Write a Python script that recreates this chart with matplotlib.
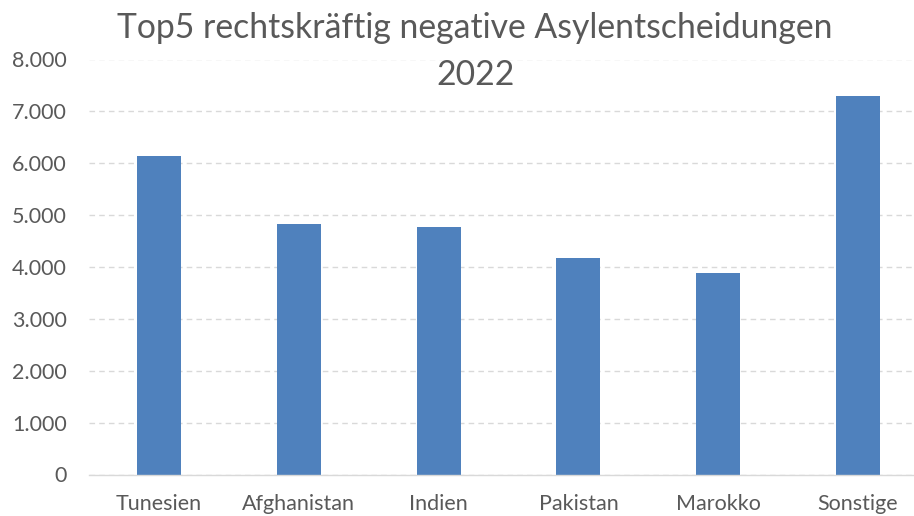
import matplotlib
matplotlib.use("Agg")
import matplotlib.pyplot as plt
from matplotlib.ticker import FuncFormatter

categories = ["Tunesien", "Afghanistan", "Indien", "Pakistan", "Marokko", "Sonstige"]
values = [6140, 4820, 4770, 4175, 3885, 7295]
yticks = [0, 1000, 2000, 3000, 4000, 5000, 6000, 7000, 8000]
title_lines = ["Top5 rechtskräftig negative Asylentscheidungen", "2022"]

plt.rcParams['font.family'] = ['Lato', 'DejaVu Sans']

W, H = 914, 516
fig = plt.figure(figsize=(W / 100, H / 100), dpi=100)
left, right = 89 / W, 928 / W
bottom, top = (H - 474.5) / H, (H - 59.5) / H
ax = fig.add_axes([left, bottom, right - left, top - bottom])

x = list(range(len(categories)))
ax.bar(x, values, width=0.315, color="#4F81BD", zorder=3)
ax.set_xlim(-0.5, len(categories) - 0.5)
ax.set_ylim(0, 8000)
ax.set_yticks(yticks)
ax.yaxis.set_major_formatter(FuncFormatter(lambda v, p: f"{int(v):,}".replace(",", ".")))
ax.set_xticks(x)
ax.set_xticklabels(categories)

for s in ["top", "right", "left"]:
    ax.spines[s].set_visible(False)
ax.spines["bottom"].set_color("#D9D9D9")
ax.spines["bottom"].set_linewidth(1.0)
ax.spines["bottom"].set_zorder(4)

ax.grid(axis="y", color="#D9D9D9", linestyle=(0, (4, 3)), linewidth=1.0, zorder=0)
ax.tick_params(axis="both", length=0, labelsize=15.5, colors="#595959")
ax.tick_params(axis="y", pad=16)
ax.tick_params(axis="x", pad=14)

fig.text(475 / W, (H - 28) / H, title_lines[0], ha="center", va="center",
         fontsize=24.3, color="#595959")
fig.text(476 / W, (H - 75) / H, title_lines[1], ha="center", va="center",
         fontsize=24.3, color="#595959")

fig.savefig("out.png", dpi=100)
